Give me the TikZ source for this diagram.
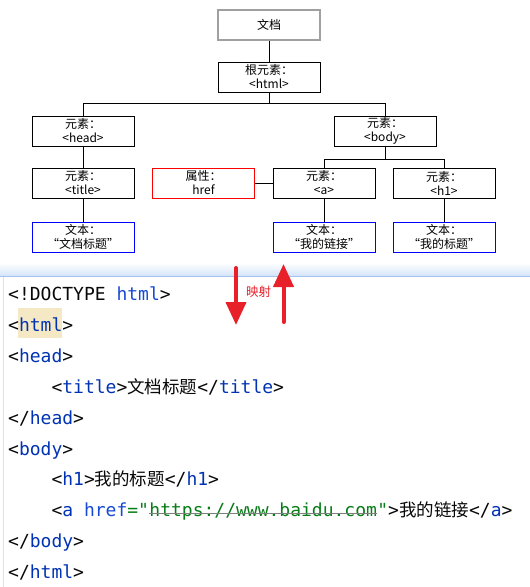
\documentclass[tikz,border=0pt]{standalone}
\usepackage{fontspec}
\setmonofont{DejaVu Sans Mono}
\newfontfamily\cjk{Noto Sans CJK SC}
\usetikzlibrary{arrows.meta}
\definecolor{tagblue}{HTML}{0033B3}
\definecolor{attrblue}{HTML}{174AD4}
\definecolor{valgreen}{HTML}{067D17}
\definecolor{codeblack}{HTML}{080808}
\definecolor{hilite}{HTML}{F5E8C4}
\definecolor{sepband}{HTML}{D3E4F8}
\definecolor{sepline}{HTML}{A3C3EE}
\definecolor{gutter}{HTML}{E2E2E2}
\definecolor{arrowred}{HTML}{E8202A}
\definecolor{docgray}{HTML}{A0A0A0}
\newcommand\boxfont{\cjk\fontsize{12}{14}\selectfont}
\newcommand\zh[1]{{\cjk\fontsize{17.5}{17.5}\selectfont #1}}
\newcommand\tg[1]{\textcolor{tagblue}{#1}}
\begin{document}
\begin{tikzpicture}[x=1pt,y=-1pt,
  box/.style={draw, line width=1pt, minimum width=102pt, minimum height=30pt,
    inner sep=0pt, align=center, font=\boxfont},
  docbox/.style={box, draw=docgray, line width=2pt},
  txtbox/.style={box, draw=blue},
  attrbox/.style={box, draw=red},
  link/.style={line width=1pt},
  code/.style={anchor=base west, inner sep=0pt, text=codeblack,
    font=\ttfamily\fontsize{18}{18}\selectfont},
  maparrow/.style={line width=4pt, arrowred, line cap=round,
    -{Triangle[width=20pt,length=23pt]}}]
\useasboundingbox (0,0) rectangle (530,587);
\fill[white] (0,0) rectangle (530,587);

% ---- tree ----
\node[docbox] (doc) at (269,24.5) {文档};
\node[box] (html) at (269,77) {根元素：\\<html>};
\node[box] (head) at (83,131) {元素：\\<head>};
\node[box] (body) at (385,131) {元素：\\<body>};
\node[box] (title) at (83,183) {元素：\\<title>};
\node[attrbox] (href) at (203.5,183) {属性：\\href};
\node[box] (a) at (324,183) {元素：\\<a>};
\node[box] (h1) at (444,183) {元素：\\<h1>};
\node[txtbox] (ttext) at (83,237) {文本：\\“文档标题”};
\node[txtbox] (atext) at (324,237) {文本：\\“我的链接”};
\node[txtbox] (htext) at (444,237) {文本：\\“我的标题”};

\draw[link] (doc) -- (html);
\draw[link] (html.south) -- (html.south |- 0,103) -| (head.north);
\draw[link] (html.south) -- (html.south |- 0,103) -| (body.north);
\draw[link] (head) -- (title);
\draw[link] (title) -- (ttext);
\draw[link] (body.south) -- (body.south |- 0,159) -| (a.north);
\draw[link] (body.south) -- (body.south |- 0,159) -| (h1.north);
\draw[link] (href) -- (a);
\draw[link] (a) -- (atext);
\draw[link] (h1) -- (htext);

% ---- editor area ----
\shade[top color=white, bottom color=sepband] (0,263) rectangle (530,276);
\draw[sepline, line width=1.2pt] (0,276.5) -- (530,276.5);
\draw[gutter, line width=1pt] (3.5,277) -- (3.5,587);
\fill[hilite] (18,308) rectangle (62,338);

\node[code] (l1) at (8,300) {<!DOCTYPE \textcolor{attrblue}{html}>};
\node[code] (l2) at (8,331) {<\tg{html}>};
\node[code] (l3) at (8,362) {<\tg{head}>};
\node[code] (l4) at (51.3,393) {<\tg{title}>\zh{文档标题}</\tg{title}>};
\node[code] (l5) at (8,424) {</\tg{head}>};
\node[code] (l6) at (8,455) {<\tg{body}>};
\node[code] (l7) at (51.3,485.5) {<\tg{h1}>\zh{我的标题}</\tg{h1}>};
\node[code] (l8a) at (51.3,516) {<\tg{a} \textcolor{attrblue}{href}\textcolor{valgreen}{="}};
\node[code, text=valgreen] (url) at (l8a.base east) {https://www.baidu.com};
\node[code] (l8b) at (url.base east) {\textcolor{valgreen}{"}>\zh{我的链接}</\tg{a}>};
\draw[gray, line width=1pt] ([yshift=2.5pt]url.base west) -- ([yshift=2.5pt]url.base east);
\node[code] (l9) at (8,547) {</\tg{body}>};
\node[code] (l10) at (8,578) {</\tg{html}>};

% ---- mapping arrows ----
\coordinate (dtop) at (236,268);
\coordinate (dbot) at (236,325);
\coordinate (ubot) at (283.5,322);
\coordinate (utop) at (283.5,264);
\draw[maparrow] (dtop) -- (dbot);
\draw[maparrow] (ubot) -- (utop);
\node[text=arrowred, font=\cjk\fontsize{12.5}{12.5}\selectfont, inner sep=0pt] (map) at (258.5,292) {映射};
\end{tikzpicture}
\end{document}
